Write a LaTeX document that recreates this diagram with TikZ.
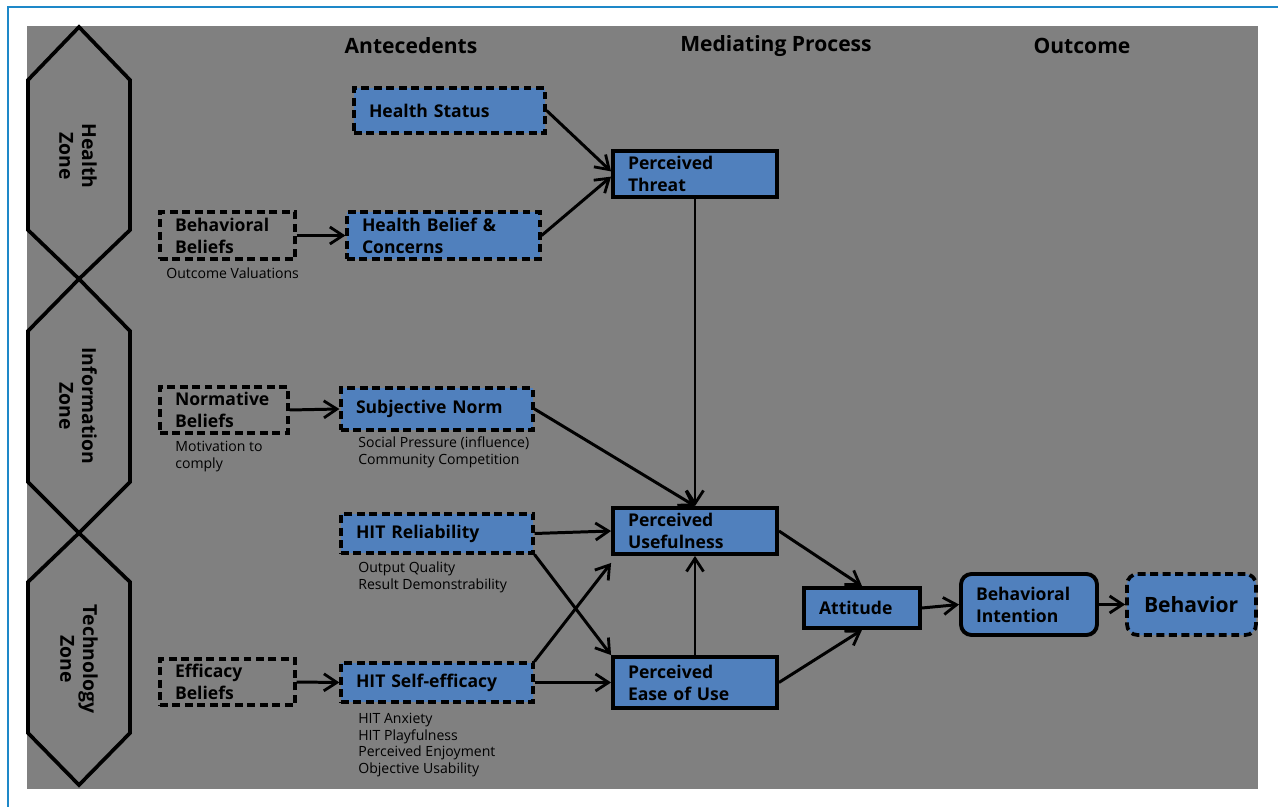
\documentclass[tikz,border=0pt]{standalone}
\usepackage{fontspec}
\setmainfont{Open Sans}
\usepackage{xcolor}
\usepackage{tikz}
\usetikzlibrary{arrows.meta}
\definecolor{bggray}{RGB}{128,128,128}
\definecolor{boxblue}{RGB}{80,128,189}
\definecolor{framebl}{RGB}{30,136,200}

\begin{document}
\begin{tikzpicture}[
  >={Straight Barb[length=2.6mm,width=3.4mm,line width=1.6pt]},
  % ---- node styles ----
  antebox/.style={
    draw=black, fill=boxblue, dashed, dash pattern=on 4.5pt off 2.6pt,
    line width=1.8pt, align=left, inner xsep=0.3cm, inner ysep=0pt,
    font=\fontsize{10}{12.5}\selectfont\bfseries
  },
  beliefbox/.style={
    antebox, fill=none
  },
  medbox/.style={
    draw=black, fill=boxblue, line width=2.2pt, align=left,
    inner xsep=0.3cm, inner ysep=0pt,
    font=\fontsize{10}{12.5}\selectfont\bfseries
  },
  note/.style={
    anchor=west, align=left, inner sep=0pt,
    font=\fontsize{8}{9.6}\selectfont
  },
  header/.style={font=\fontsize{12}{14}\selectfont\bfseries},
  zonetext/.style={rotate=-90, align=center,
    font=\fontsize{11}{13}\selectfont\bfseries},
  link/.style={->, line width=1.7pt},
]
\useasboundingbox (0,0) rectangle (25.56,-16.14);

% ---- Frame and background ----
\draw[framebl, line width=1.7pt] (0.16,-16.2) -- (0.16,-0.14) -- (25.6,-0.14);
\fill[bggray] (0.54,-0.52) rectangle (25.16,-15.78);

% ---- Zones ----
\draw[line width=2.1pt] (1.58,-0.54) -- (2.6,-1.6) -- (2.6,-4.6) -- (1.58,-5.58)
  -- (0.56,-4.6) -- (0.56,-1.6) -- cycle;
\draw[line width=2.1pt] (1.58,-5.58) -- (2.6,-6.62) -- (2.6,-9.64) -- (1.58,-10.66)
  -- (0.56,-9.64) -- (0.56,-6.62) -- cycle;
\draw[line width=2.1pt] (1.58,-10.66) -- (2.6,-11.64) -- (2.6,-14.66) -- (1.58,-15.7)
  -- (0.56,-14.66) -- (0.56,-11.64) -- cycle;
\node[zonetext] (zh) at (1.56,-3.12) {Health\\Zone};
\node[zonetext] (zi) at (1.56,-8.12) {Information\\Zone};
\node[zonetext] (zt) at (1.58,-13.18) {Technology\\Zone};

% ---- Column headers ----
\node[header] (hant) at (8.22,-0.92) {Antecedents};
\node[header] (hmed) at (15.52,-0.92) {Mediating Process};
\node[header] (hout) at (21.64,-0.92) {Outcome};

% ---- Antecedents ----
\node[antebox, text width=3.22cm, minimum height=0.9cm] (hs) at (8.99,-2.21) {Health Status};
\node[beliefbox, text width=2.1cm, minimum height=0.94cm] (bb) at (4.55,-4.71) {Behavioral\\Beliefs};
\node[note] (bbn) at (3.32,-5.46) {Outcome Valuations};
\node[antebox, text width=3.26cm, minimum height=0.94cm] (hb) at (8.87,-4.71) {Health Belief \&\\Concerns};

\node[beliefbox, text width=1.96cm, minimum height=0.92cm] (nb) at (4.48,-8.2) {Normative\\Beliefs};
\node[note] (nbn) at (3.5,-9.13) {Motivation to\\comply};
\node[antebox, text width=3.24cm, minimum height=0.84cm] (sn) at (8.74,-8.18) {Subjective Norm};
\node[note] (snn) at (7.16,-9.05) {Social Pressure (influence)\\Community Competition};

\node[antebox, text width=3.24cm, minimum height=0.78cm] (hr) at (8.74,-10.67) {HIT Reliability};
\node[note] (hrn) at (7.16,-11.55) {Output Quality\\Result Demonstrability};

\node[beliefbox, text width=2.1cm, minimum height=0.92cm] (eb) at (4.55,-13.64) {Efficacy\\Beliefs};
\node[antebox, text width=3.24cm, minimum height=0.78cm] (se) at (8.74,-13.65) {HIT Self-efficacy};
\node[note] (sen) at (7.16,-14.9) {HIT Anxiety\\HIT Playfulness\\Perceived Enjoyment\\Objective Usability};

% ---- Mediating process ----
\node[medbox, text width=2.68cm, minimum height=0.92cm] (pt) at (13.9,-3.48) {Perceived\\Threat};
\node[medbox, text width=2.68cm, minimum height=0.92cm] (pu) at (13.9,-10.62) {Perceived\\Usefulness};
\node[medbox, text width=2.68cm, minimum height=1.02cm] (pe) at (13.9,-13.65) {Perceived\\Ease of Use};

% ---- Outcome ----
\node[medbox, text width=1.72cm, minimum height=0.8cm] (at) at (17.24,-12.16) {Attitude};
\node[medbox, rounded corners=6pt, text width=2.12cm, minimum height=1.22cm] (bi) at (20.58,-12.09) {Behavioral\\Intention};
\node[antebox, rounded corners=6pt, line width=2.1pt, inner xsep=0.34cm, text width=1.9cm,
  minimum height=1.22cm, font=\fontsize{12}{14}\selectfont\bfseries] (be) at (23.83,-12.09) {Behavior};

% ---- Links ----
\draw[link] (hs.east) -- ([yshift=1.5pt]pt.west);
\draw[link] (hb.east) -- ([yshift=-1.5pt]pt.west);
\draw[link] (bb.east) -- (hb.west);
\draw[link] (nb.east) -- (sn.west);
\draw[link] (eb.east) -- (se.west);
\draw[link] (pt.south) -- (pu.north);
\draw[link] (sn.east) -- (pu.north);
\draw[link] (hr.east) -- (pu.west);
\draw[link] (hr.south east) -- (pe.north west);
\draw[link] (se.north east) -- ([yshift=-4pt]pu.south west);
\draw[link] (se.east) -- (pe.west);
\draw[link] (pe.north) -- (pu.south);
\draw[link] (pu.east) -- (at.north);
\draw[link] (pe.east) -- (at.south);
\draw[link] (at.east) -- (bi.west);
\draw[link] (bi.east) -- (be.west);

\end{tikzpicture}
\end{document}
